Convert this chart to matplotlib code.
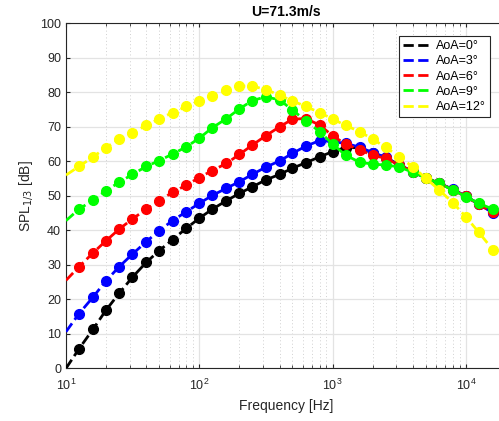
import matplotlib
matplotlib.use("Agg")
import matplotlib.pyplot as plt
from matplotlib.ticker import LogLocator, NullFormatter, MultipleLocator

plt.rcParams['font.family'] = ['Liberation Sans', 'DejaVu Sans']

freq = [12.5, 16, 20, 25, 31.5, 40, 50, 63, 80, 100, 125, 160, 200, 250, 315, 400,
        500, 630, 800, 1000, 1250, 1600, 2000, 2500, 3150, 4000, 5000, 6300, 8000,
        10000, 12500, 16000]

spl_aoa0 = [5.6, 11.4, 16.9, 21.7, 26.4, 30.7, 34.1, 37.3, 40.6, 43.5, 46.1, 48.6, 50.7,
            52.6, 54.6, 56.2, 58.0, 59.6, 61.3, 62.8, 64.0, 63.9, 62.4, 61.1, 59.0, 57.0,
            55.2, 53.6, 51.8, 49.8, 47.7, 45.2]
spl_aoa3 = [15.8, 20.7, 25.4, 29.4, 33.1, 36.7, 39.9, 42.8, 45.4, 47.8, 50.1, 52.2, 54.1,
            56.2, 58.3, 60.1, 62.3, 64.4, 66.0, 65.7, 65.2, 64.1, 62.5, 61.2, 58.9, 57.0,
            55.2, 53.6, 51.9, 49.8, 47.6, 45.0]
spl_aoa6 = [29.4, 33.5, 37.0, 40.3, 43.3, 46.1, 48.6, 51.0, 53.1, 55.3, 57.3, 59.4, 62.0,
            64.7, 67.4, 70.0, 72.2, 72.4, 70.5, 67.4, 65.0, 63.3, 61.7, 60.9, 58.9, 57.0,
            55.2, 53.6, 51.8, 49.8, 47.5, 45.2]
spl_aoa9 = [46.1, 48.8, 51.5, 53.9, 56.2, 58.5, 60.2, 62.1, 64.2, 66.7, 69.7, 72.4, 75.2,
            77.6, 78.7, 77.8, 74.9, 71.7, 68.6, 65.0, 61.8, 59.7, 59.2, 58.9, 58.4, 56.8,
            55.2, 53.6, 51.7, 49.7, 47.8, 46.1]
spl_aoa12 = [58.5, 61.3, 64.0, 66.4, 68.3, 70.4, 72.3, 74.1, 75.9, 77.5, 79.0, 80.6, 81.8,
             81.8, 80.8, 79.2, 77.5, 75.9, 74.1, 72.3, 70.4, 68.6, 66.4, 64.1, 61.3, 58.4,
             55.1, 51.7, 48.0, 43.9, 39.4, 34.3]

fit_start_freq = 10
fit_start = [0.0, 10.6, 25.5, 42.8, 56.0]

labels = ['AoA=0°', 'AoA=3°', 'AoA=6°', 'AoA=9°', 'AoA=12°']
colors = ['#000000', '#0000ff', '#ff0000', '#00ff00', '#ffff00']
series = [spl_aoa0, spl_aoa3, spl_aoa6, spl_aoa9, spl_aoa12]

W, H = 499, 421
fig = plt.figure(figsize=(W / 100, H / 100), dpi=100)
ax = fig.add_axes([66 / W, 1 - 368.3 / H, (506 - 66) / W, (368.3 - 23.3) / H])

for vals, start, lab, c in zip(series, fit_start, labels, colors):
    ax.plot(freq, vals, 'o', color=c, markersize=7, zorder=3)
    ax.plot([fit_start_freq] + freq, [start] + vals, '--', color=c, lw=2,
            label=lab, zorder=3)

ax.set_xscale('log')
ax.set_xlim(10, 20000)
ax.set_ylim(0, 100)
ax.yaxis.set_major_locator(MultipleLocator(10))
ax.xaxis.set_major_locator(LogLocator(base=10, numticks=10))
ax.xaxis.set_minor_locator(LogLocator(base=10, subs=range(2, 10), numticks=20))
ax.xaxis.set_minor_formatter(NullFormatter())

ax.grid(True, which='major', color='#e3e3e3', lw=0.9, ls='-')
ax.grid(True, which='minor', axis='x', color='#d0d0d0', lw=0.7, ls=(0, (1, 2.5)))
ax.set_axisbelow(True)

ax.tick_params(which='both', direction='in', top=True, right=True,
               labelsize=9, colors='#262626', length=3)
ax.tick_params(which='minor', length=2)
ax.tick_params(axis='x', which='both', pad=7)
for s in ax.spines.values():
    s.set_color('#262626')
    s.set_linewidth(0.8)

ax.set_xlabel('Frequency [Hz]', fontsize=10, color='#262626', labelpad=4)
ax.set_ylabel('SPL$_{1/3}$ [dB]', fontsize=10, color='#262626')
ax.set_title('U=71.3m/s', fontsize=10, fontweight='bold', color='#000000', pad=5)

leg = ax.legend(loc='upper right', bbox_to_anchor=(490 / W, 1 - 36 / H),
                bbox_transform=fig.transFigure, fontsize=9, fancybox=False,
                framealpha=1, edgecolor='#262626', handlelength=2.0,
                borderaxespad=0, labelspacing=0.25, borderpad=0.35,
                handletextpad=0.6)
leg.get_frame().set_linewidth(0.8)

fig.savefig('out.png', dpi=100)
